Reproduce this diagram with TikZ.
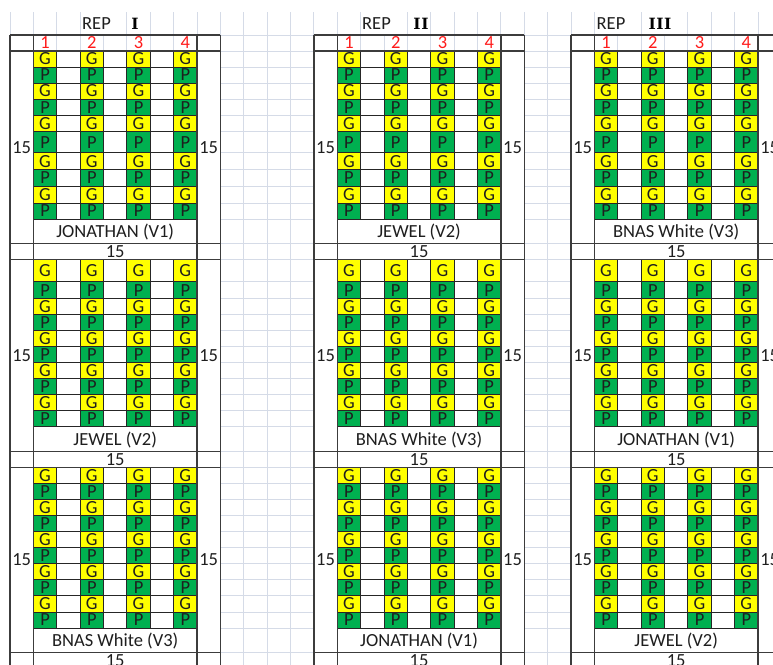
\documentclass[tikz,border=0pt]{standalone}
\usepackage{fontspec}
\setmainfont{Carlito}
\newfontfamily\romanfont{DejaVu Serif}
\definecolor{gridc}{HTML}{D5DBE7}
\definecolor{cellY}{HTML}{FFFF00}
\definecolor{cellG}{HTML}{00B050}
\definecolor{hdrRed}{HTML}{FF1A1A}
\definecolor{ink}{HTML}{1E1E1E}
\definecolor{bord}{HTML}{3C3C3C}
\pgfdeclarelayer{fg}
\pgfsetlayers{main,fg}
\tikzset{
  gridline/.style={draw=gridc, line width=0.9pt},
  thinb/.style={draw=black!85, line width=0.9pt},
  thickb/.style={draw=bord, line width=1.5pt},
  celltxt/.style={inner sep=0pt, text height=11.9pt, text depth=0pt, font=\fontsize{18.5}{22}\selectfont, text=ink},
  rednum/.style={celltxt, text=hdrRed},
  romtxt/.style={inner sep=0pt, font=\romanfont\bfseries\fontsize{15.5}{18}\selectfont, text=black},
}
\newcommand{\blk}[7]{%
  \foreach \yy [count=\ii] in {#2}{\expandafter\xdef\csname yv\ii\endcsname{\yy}}%
  \pgfmathsetmacro\xa{10+23.375*#1}%
  \pgfmathsetmacro\xb{10+23.375*(#1+1)}%
  \pgfmathsetmacro\xc{10+23.375*(#1+8)}%
  \pgfmathsetmacro\xd{10+23.375*(#1+9)}%
  \edef\ytop{\csname yv1\endcsname}%
  \edef\ybot{\csname yv11\endcsname}%
  \fill[white] (\xa,\ytop) rectangle (\xb,#3);
  \fill[white] (\xc,\ytop) rectangle (\xd,#3);
  \fill[white] (\xb,\ybot) rectangle (\xc,#3);
  \fill[white] (\xa,#3) rectangle (\xd,#4);
  \foreach \i in {1,...,10}{%
    \pgfmathtruncatemacro\inext{\i+1}%
    \edef\ya{\csname yv\i\endcsname}%
    \edef\yb{\csname yv\inext\endcsname}%
    \ifodd\i\relax \def\cc{cellY}\def\lett{G}\else \def\cc{cellG}\def\lett{P}\fi
    \foreach \j in {1,3,5,7}{%
      \pgfmathsetmacro\xl{10+23.375*(#1+\j)}%
      \pgfmathsetmacro\xr{\xl+23.375}%
      \fill[\cc] (\xl,\ya) rectangle (\xr,\yb);
      \node[celltxt] (#7c\i x\j) at ({(\xl+\xr)/2},{(\ya+\yb)/2}) {\lett};
    }%
  }%
  \foreach \i in {1,...,11}{%
    \edef\ya{\csname yv\i\endcsname}%
    \draw[thinb] (\xb,\ya) -- (\xc,\ya);
  }%
  \foreach \j in {1,...,8}{%
    \pgfmathsetmacro\xl{10+23.375*(#1+\j)}%
    \draw[thinb] (\xl,\ytop) -- (\xl,\ybot);
  }%
  \node[celltxt] (#7lab) at ({(\xb+\xc)/2},{(\ybot+#3)/2}) {#5};
  \node[celltxt] (#7bot) at ({(\xb+\xc)/2},{(#3+#4)/2}) {15};
  \node[celltxt] (#7left) at ({(\xa+\xb)/2},{(\ytop+#3)/2}) {15};
  \node[celltxt] (#7right) at ({(\xc+\xd)/2},{(\ytop+#3)/2}) {15};
  \begin{pgfonlayer}{fg}
    \draw[thickb] (\xa,#6) -- (\xa,#4) (\xb,#6) -- (\xb,#4) (\xc,#6) -- (\xc,#4) (\xd,#6) -- (\xd,#4);
    \draw[thickb] (\xa,#3) -- (\xd,#3) (\xa,#4) -- (\xd,#4);
  \end{pgfonlayer}
}
\newcommand{\hdr}[2]{%
  \pgfmathsetmacro\xa{10+23.375*#1}%
  \pgfmathsetmacro\xd{10+23.375*(#1+9)}%
  \foreach \j/\n in {1/1,3/2,5/3,7/4}{%
    \node[rednum] (#2h\n) at ({10+23.375*(#1+\j+0.5)},43) {\n};
  }%
  \begin{pgfonlayer}{fg}
    \draw[thickb] (\xa,35) -- (\xd,35) (\xa,51) -- (\xd,51);
  \end{pgfonlayer}
}
\begin{document}
\begin{tikzpicture}[x=1pt,y=-1pt]
\useasboundingbox (0,0) rectangle (773,664);
% spreadsheet gridlines
\foreach \k in {0,...,33}{%
  \pgfmathsetmacro\xx{10+23.375*\k}%
  \draw[gridline] (\xx,35) -- (\xx,670);
}
\foreach \k in {0,1,2,3,5,6,7,8,9,10,11,12,13,14,15,17,18,19,20,21,22,23,24,25,27,29,30,31,32,33}{%
  \pgfmathsetmacro\xx{10+23.375*\k}%
  \draw[gridline] (\xx,12) -- (\xx,35);
}
\foreach \yy in {35,51,67,83,99,115.3,131.7,152.7,169.5,186.5,203,219,243.3,259.7,281.7,298.5,314.7,330.7,346.7,362.7,378.7,394.7,410.7,426.7,451.5,467.5,483.3,499.3,515.3,531.3,547.3,563.3,579.3,595.3,612,628,652.3}{%
  \draw[gridline] (10,\yy) -- (790,\yy);
}
% titles
\node[celltxt] (rep1) at (96.5,24) {REP};
\node[romtxt] (rom1) at (135,24) {I};
\node[celltxt] (rep2) at (376.5,24) {REP};
\node[romtxt] (rom2) at (421,24) {I\kern0.6ptI};
\node[celltxt] (rep3) at (611,24) {REP};
\node[romtxt] (rom3) at (660,24) {I\kern0.6ptI\kern0.6ptI};
% headers
\hdr{0}{a}
\hdr{13}{b}
\hdr{24}{c}
% block row 1
\blk{0}{51,67,83,99,115.3,131.7,152.7,169.5,186.5,203,219}{243.3}{259.7}{JONATHAN (V1)}{35}{a1}
\blk{13}{51,67,83,99,115.3,131.7,152.7,169.5,186.5,203,219}{243.3}{259.7}{JEWEL (V2)}{35}{b1}
\blk{24}{51,67,83,99,115.3,131.7,152.7,169.5,186.5,203,219}{243.3}{259.7}{BNAS White (V3)}{35}{c1}
% block row 2
\blk{0}{259.7,281.7,298.5,314.7,330.7,346.7,362.7,378.7,394.7,410.7,426.7}{451.5}{467.5}{JEWEL (V2)}{259.7}{a2}
\blk{13}{259.7,281.7,298.5,314.7,330.7,346.7,362.7,378.7,394.7,410.7,426.7}{451.5}{467.5}{BNAS White (V3)}{259.7}{b2}
\blk{24}{259.7,281.7,298.5,314.7,330.7,346.7,362.7,378.7,394.7,410.7,426.7}{451.5}{467.5}{JONATHAN (V1)}{259.7}{c2}
% block row 3
\blk{0}{467.5,483.3,499.3,515.3,531.3,547.3,563.3,579.3,595.3,612,628}{652.3}{668}{BNAS White (V3)}{467.5}{a3}
\blk{13}{467.5,483.3,499.3,515.3,531.3,547.3,563.3,579.3,595.3,612,628}{652.3}{668}{JONATHAN (V1)}{467.5}{b3}
\blk{24}{467.5,483.3,499.3,515.3,531.3,547.3,563.3,579.3,595.3,612,628}{652.3}{668}{JEWEL (V2)}{467.5}{c3}
\end{tikzpicture}
\end{document}
